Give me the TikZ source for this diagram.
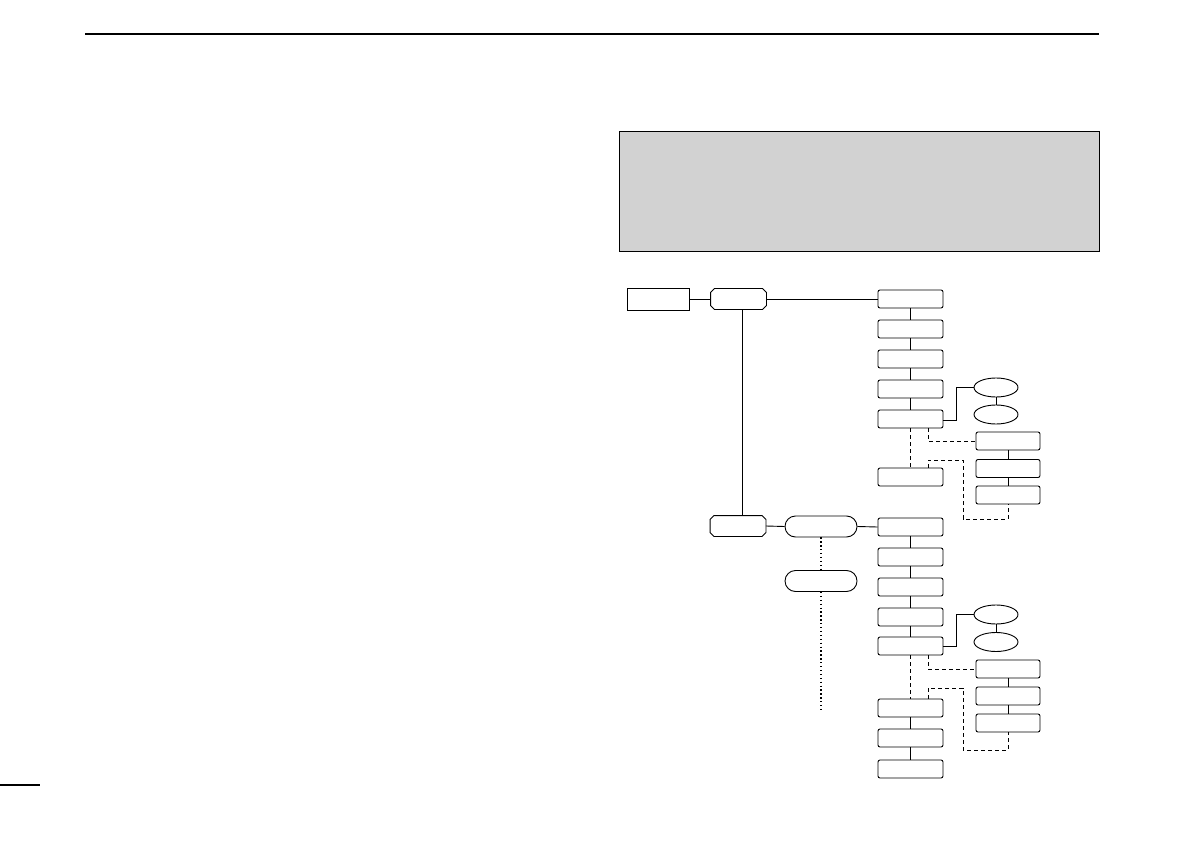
\documentclass[tikz,border=0pt]{standalone}
\usetikzlibrary{shapes.misc,shapes.geometric}
\begin{document}
\begin{tikzpicture}[x=1pt,y=-1pt,line width=0.9pt,
  box/.style={draw,rectangle,rounded corners=2pt,minimum width=65pt,minimum height=18pt,inner sep=0pt},
  rbox/.style={draw,rectangle,rounded corners=2pt,minimum width=64pt,minimum height=18pt,inner sep=0pt},
  oval/.style={draw,ellipse,minimum width=44pt,minimum height=19pt,inner sep=0pt},
  octa/.style={rectangle,minimum width=55pt,minimum height=20pt,inner sep=0pt},
  pill/.style={draw,rounded rectangle,minimum width=72pt,minimum height=21pt,inner sep=0pt},
  plainbox/.style={draw,rectangle,minimum width=62pt,minimum height=22pt,inner sep=0pt},
  dashline/.style={dash pattern=on 4pt off 3pt},
  dotline/.style={line width=1.3pt,dash pattern=on 1.3pt off 2.6pt}]
\useasboundingbox (0,0) rectangle (1191,842);
% page rules
\draw[line width=2.4pt] (85,34) -- (1099,34);
\draw[line width=1.5pt] (0,785) -- (40,785);
% gray panel
\node[draw,fill=gray!35,line width=0.8pt,minimum width=480pt,minimum height=120pt,inner sep=0pt] (panel) at (859,191) {};
% left part
\node[plainbox] (start) at (658,299) {};
\node[octa] (o1) at (738.5,299) {};
\node[octa] (o2) at (738,526) {};
\foreach \o in {o1,o2}{
  \draw[line join=round] ([xshift=4pt]\o.north west) -- ([xshift=-4pt]\o.north east)
    -- ([yshift=-4pt]\o.north east) -- ([yshift=4pt]\o.south east)
    -- ([xshift=-4pt]\o.south east) -- ([xshift=4pt]\o.south west)
    -- ([yshift=4pt]\o.south west) -- ([yshift=-4pt]\o.north west) -- cycle;
}
\node[pill] (s1) at (821,526.5) {};
\node[pill] (s2) at (821,581) {};
\coordinate (dend) at (821,711);
% top column
\foreach \n/\y in {1/299,2/329,3/359,4/389,5/419,6/477}{\node[box] (a\n) at (910.5,\y) {};}
\node[oval] (ae1) at (996,387.5) {};
\node[oval] (ae2) at (996,414.5) {};
\node[rbox] (ar1) at (1008,441) {};
\node[rbox] (ar2) at (1008,468.5) {};
\node[rbox] (ar3) at (1008,495) {};
% bottom column
\foreach \n/\y in {1/527,2/557,3/587,4/617,5/646,6/708,7/738,8/769}{\node[box] (b\n) at (910.5,\y) {};}
\node[oval] (be1) at (996,614.5) {};
\node[oval] (be2) at (996,642) {};
\node[rbox] (br1) at (1008,669) {};
\node[rbox] (br2) at (1008,696) {};
\node[rbox] (br3) at (1008,723) {};
\coordinate (ak1) at (963,460);
\coordinate (ak2) at (1008,519);
\coordinate (bk1) at (963,688);
\coordinate (bk2) at (1008,750);
% connectors
\draw (start.east) -- (o1.west);
\draw (o1.east) -- (a1.west);
\draw ([xshift=3.5pt]o1.south) -- ([xshift=4pt]o2.north);
\draw (o2.east) -- (s1.west);
\draw (s1.east) -- (b1.west);
\draw[dotline] (s1.south) -- (s2.north);
\draw[dotline] (s2.south) -- (dend);
% top column links
\draw (a1) -- (a2); \draw (a2) -- (a3); \draw (a3) -- (a4); \draw (a4) -- (a5);
\draw ([yshift=-1pt]a5.east) -- ++(13,0) |- (ae1.west);
\draw (ae1) -- (ae2);
\draw (ar1) -- (ar2); \draw (ar2) -- (ar3);
\draw[dashline] (a5.south) -- (a6.north);
\draw[dashline] ([xshift=17.5pt]a5.south) |- (ar1.west);
\draw[dashline] ([xshift=17.5pt]a6.north) |- (ak1) |- (ak2) -- (ar3.south);
% bottom column links
\draw (b1) -- (b2); \draw (b2) -- (b3); \draw (b3) -- (b4); \draw (b4) -- (b5);
\draw (b6) -- (b7); \draw (b7) -- (b8);
\draw (b5.east) -- ++(13,0) |- (be1.west);
\draw (be1) -- (be2);
\draw (br1) -- (br2); \draw (br2) -- (br3);
\draw[dashline] (b5.south) -- (b6.north);
\draw[dashline] ([xshift=17.5pt]b5.south) |- (br1.west);
\draw[dashline] ([xshift=17.5pt]b6.north) |- (bk1) |- (bk2) -- (br3.south);
\end{tikzpicture}
\end{document}
